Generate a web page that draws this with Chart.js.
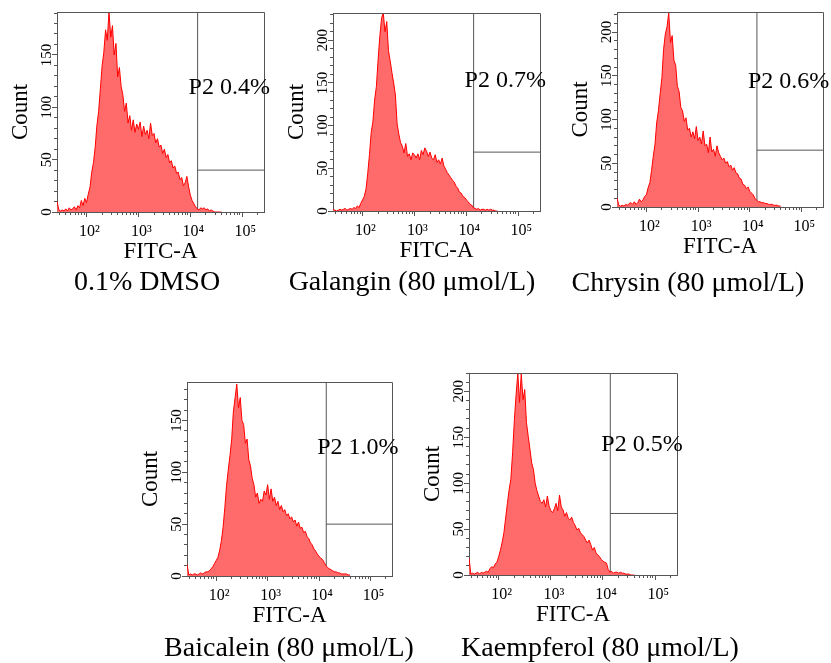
<!DOCTYPE html>
<html>
<head>
<meta charset="utf-8">
<script src="https://cdn.jsdelivr.net/npm/chart.js@4.4.1/dist/chart.umd.min.js"></script>
<style>
  html, body { margin: 0; padding: 0; background: #fff; }
  body { width: 831px; height: 663px; position: relative; overflow: hidden; font-family: 'Liberation Serif', 'Times New Roman', serif; }
  canvas { position: absolute; }
  .caption { position: absolute; font-size: 28px; line-height: 28px; white-space: nowrap; color: #000; transform: translateX(-50%); }
</style>
</head>
<body>
<script>
// FITC-A channel centres (30 bins per decade)
const channels = [
  27.1, 29.3, 31.6, 34.1, 36.9, 39.8, 43.0, 46.4, 50.1, 54.1,
  58.4, 63.1, 68.1, 73.6, 79.4, 85.8, 92.6, 100, 108, 117,
  126, 136, 147, 158, 171, 185, 200, 215, 233, 251,
  271, 293, 316, 341, 369, 398, 430, 464, 501, 541,
  584, 631, 681, 736, 794, 858, 926, 1000, 1080, 1166,
  1259, 1359, 1468, 1585, 1711, 1848, 1995, 2154, 2326, 2512,
  2712, 2929, 3162, 3415, 3687, 3981, 4299, 4642, 5012, 5412,
  5843, 6310, 6813, 7356, 7943, 8577, 9261, 10000, 10798, 11659,
  12589, 13594, 14678, 15849, 17113, 18478, 19953, 21544, 23263, 25119,
  27123, 29286, 31623, 34145, 36869, 39811
];

const dmso = [
  10, 2, 1, 2, 1, 3, 1, 4, 2, 3,
  5, 2, 6, 4, 11, 6, 13, 9, 17, 24,
  38, 47, 62, 82, 96, 118, 140, 152, 174, 164,
  191, 167, 178, 150, 161, 129, 138, 120, 112, 96,
  104, 85, 92, 78, 88, 76, 84, 79, 86, 72,
  82, 74, 78, 70, 85, 73, 75, 66, 70, 62,
  64, 56, 60, 52, 55, 47, 49, 42, 44, 37,
  38, 31, 33, 25, 28, 34, 24, 16, 11, 8,
  5, 3, 2, 4, 3, 4, 2, 3, 1, 2,
  1, 0, 0, 0, 0, 0
];
const galangin = [
  2, 1, 0, 1, 2, 1, 2, 3, 1, 2,
  3, 2, 4, 3, 6, 4, 9, 13, 17, 26,
  44, 66, 92, 104, 130, 146, 178, 204, 226, 232,
  210, 222, 188, 176, 162, 150, 136, 102, 90, 80,
  76, 68, 79, 64, 67, 60, 68, 66, 62, 67,
  60, 71, 66, 74, 70, 64, 69, 62, 60, 66,
  57, 60, 55, 62, 53, 49, 45, 42, 39, 36,
  34, 29, 27, 22, 21, 17, 16, 13, 11, 8,
  7, 4, 3, 2, 3, 1, 2, 2, 1, 2,
  1, 2, 1, 1, 0, 0
];
const chrysin = [
  10, 2, 1, 2, 1, 3, 2, 4, 5, 3,
  6, 3, 5, 9, 6, 8, 12, 14, 22, 28,
  42, 58, 72, 96, 110, 130, 148, 180, 198, 206,
  222, 188, 196, 168, 162, 138, 132, 114, 110, 98,
  102, 88, 90, 80, 86, 78, 92, 76, 80, 72,
  87, 70, 72, 62, 80, 63, 66, 58, 70, 62,
  58, 54, 56, 50, 52, 46, 48, 42, 45, 39,
  38, 33, 32, 26, 25, 21, 23, 18, 16, 14,
  10, 8, 6, 6, 5, 5, 4, 4, 3, 3,
  3, 2, 2, 2, 1, 1
];
const baicalein = [
  11, 1, 2, 1, 2, 2, 1, 2, 3, 2,
  3, 4, 4, 5, 7, 9, 12, 15, 18, 25,
  34, 47, 66, 86, 102, 116, 132, 158, 172, 185,
  162, 172, 150, 146, 128, 132, 112, 106, 94, 88,
  76, 80, 70, 74, 72, 82, 78, 88, 74, 84,
  72, 76, 68, 72, 64, 68, 62, 64, 58, 60,
  55, 57, 52, 54, 48, 52, 46, 47, 42, 43,
  38, 36, 32, 30, 26, 24, 21, 19, 17, 16,
  13, 10, 8, 7, 6, 5, 4, 4, 3, 3,
  2, 2, 2, 2, 1, 1
];
const kaempferol = [
  18, 1, 2, 1, 2, 3, 1, 3, 2, 3,
  4, 3, 7, 9, 8, 12, 14, 20, 27, 36,
  46, 62, 78, 92, 104, 133, 169, 195, 220, 188,
  219, 191, 202, 166, 151, 137, 122, 115, 100, 92,
  86, 80, 78, 82, 74, 86, 75, 70, 68, 72,
  78, 70, 87, 74, 71, 64, 68, 62, 60, 63,
  57, 54, 49, 51, 46, 44, 42, 38, 35, 38,
  33, 27, 30, 24, 22, 20, 17, 15, 14, 13,
  6, 3, 4, 2, 3, 3, 2, 3, 2, 2,
  1, 1, 1, 0, 0, 0
];

const captions = ['0.1% DMSO', 'Galangin (80 \u03bcmol/L)', 'Chrysin (80 \u03bcmol/L)',
  'Baicalein (80 \u03bcmol/L)', 'Kaempferol (80 \u03bcmol/L)'];
const countMax = [191, 232, 223, 187, 220];
const gateStart = 13800;
const gateLevel = [40, 69, 65, 50, 67];
const gateText = ['P2 0.4%', 'P2 0.7%', 'P2 0.6%', 'P2 1.0%', 'P2 0.5%'];
const gateTextAt = [119, 153, 143, 124, 142];

const xMin = 27, xMax = 262144;
const xMajorTicks = [100, 1000, 10000, 100000];
const xMajorLabels = ['10\u00b2', '10\u00b3', '10\u2074', '10\u2075'];
const xMinorTicks = [30, 40, 50, 60, 70, 80, 90,
  200, 300, 400, 500, 600, 700, 800, 900,
  2000, 3000, 4000, 5000, 6000, 7000, 8000, 9000,
  20000, 30000, 40000, 50000, 60000, 70000, 80000, 90000, 200000];

// page layout: plot area of each panel (left, top, right, bottom) and caption centre/top
const plotBoxes = [
  [57, 12, 264, 212],
  [333, 13, 540, 211],
  [617, 12, 823, 207],
  [187, 382, 392, 576],
  [469, 373, 677, 575]
];
const captionSpots = [[147, 267], [412, 267], [688, 268], [289, 633], [600, 633]];

const series = [dmso, galangin, chrysin, baicalein, kaempferol];
const serif = "'Liberation Serif', 'Times New Roman', serif";
const grey = '#555';
const allXTicks = xMinorTicks.concat(xMajorTicks).sort((a, b) => a - b);

// top/right frame of the plot and the gate label
const framePlugin = {
  id: 'frame',
  afterDatasetsDraw(chart, args, opts) {
    const {ctx, chartArea: a, scales} = chart;
    ctx.save();
    ctx.strokeStyle = grey;
    ctx.lineWidth = 1;
    ctx.beginPath();
    ctx.moveTo(a.left, a.top + 0.5);
    ctx.lineTo(a.right + 0.5, a.top + 0.5);
    ctx.lineTo(a.right + 0.5, a.bottom);
    ctx.stroke();
    ctx.fillStyle = '#000';
    ctx.font = '24px ' + serif;
    ctx.textBaseline = 'middle';
    ctx.fillText(opts.text, scales.x.getPixelForValue(gateStart) - 9, scales.y.getPixelForValue(opts.at));
    ctx.restore();
  }
};

plotBoxes.forEach((box, i) => {
  const [L, T, R, B] = box;
  const padRight = i === 2 ? 8 : 10;
  const left = L - 53, top = T - 4;
  const canvas = document.createElement('canvas');
  canvas.width = R + padRight - left;
  canvas.height = B + 57 - top;
  canvas.style.left = left + 'px';
  canvas.style.top = top + 'px';
  document.body.appendChild(canvas);

  const cap = document.createElement('div');
  cap.className = 'caption';
  cap.textContent = captions[i];
  cap.style.left = captionSpots[i][0] + 'px';
  cap.style.top = captionSpots[i][1] + 'px';
  document.body.appendChild(cap);

  new Chart(canvas, {
    type: 'line',
    data: {
      datasets: [{
        data: channels.map((c, j) => ({x: c, y: series[i][j]})),
        borderColor: '#ff0000',
        borderWidth: 1,
        backgroundColor: '#ff6b6b',
        fill: 'origin',
        pointRadius: 0,
        tension: 0
      }, {
        data: [{x: gateStart, y: 0}, {x: gateStart, y: countMax[i]}],
        borderColor: grey,
        borderWidth: 1,
        pointRadius: 0,
        fill: false
      }, {
        data: [{x: gateStart, y: gateLevel[i]}, {x: xMax, y: gateLevel[i]}],
        borderColor: grey,
        borderWidth: 1,
        pointRadius: 0,
        fill: false
      }]
    },
    options: {
      responsive: false,
      animation: false,
      events: [],
      layout: {padding: {left: 0, top: 4, right: padRight, bottom: 0}},
      plugins: {
        legend: {display: false},
        tooltip: {enabled: false},
        frame: {text: gateText[i], at: gateTextAt[i]}
      },
      scales: {
        x: {
          type: 'logarithmic', position: 'bottom', min: xMin, max: xMax, weight: 0,
          afterBuildTicks: s => { s.ticks = allXTicks.map(v => ({value: v})); },
          afterFit: s => { s.height = 3; },
          ticks: {display: false},
          grid: {drawOnChartArea: false, tickLength: 3, tickColor: grey},
          border: {display: true, color: grey, width: 1}
        },
        xMajor: {
          type: 'logarithmic', axis: 'x', position: 'bottom', min: xMin, max: xMax, weight: 1,
          afterBuildTicks: s => { s.ticks = xMajorTicks.map(v => ({value: v})); },
          afterFit: s => { s.height = 54; },
          ticks: {
            autoSkip: false, maxRotation: 0, padding: 5.5, labelOffset: 3, color: '#000',
            font: {family: serif, size: 16},
            callback: v => xMajorLabels[xMajorTicks.indexOf(v)] || ''
          },
          grid: {drawOnChartArea: false, tickLength: 2, tickColor: grey},
          border: {display: false},
          title: {display: true, text: 'FITC-A', color: '#000', font: {family: serif, size: 23}, padding: {top: 0, bottom: 3.5}}
        },
        y: {
          type: 'linear', position: 'left', min: 0, max: countMax[i], weight: 0,
          afterFit: s => { s.width = 3; },
          ticks: {display: false, stepSize: 10, includeBounds: false},
          grid: {drawOnChartArea: false, tickLength: 3, tickColor: grey},
          border: {display: true, color: grey, width: 1}
        },
        yMajor: {
          type: 'linear', axis: 'y', position: 'left', min: 0, max: countMax[i], weight: 1,
          afterFit: s => { s.width = 50; },
          ticks: {
            stepSize: 50, includeBounds: false, minRotation: 90, maxRotation: 90,
            crossAlign: 'center', padding: -6.5, color: '#000',
            font: {family: serif, size: 15}
          },
          grid: {drawOnChartArea: false, tickLength: 2, tickColor: grey},
          border: {display: false},
          title: {display: true, text: 'Count', color: '#000', font: {family: serif, size: 23}, padding: {top: 3.5, bottom: 0}}
        }
      }
    },
    plugins: [framePlugin]
  });
});
</script>
</body>
</html>
